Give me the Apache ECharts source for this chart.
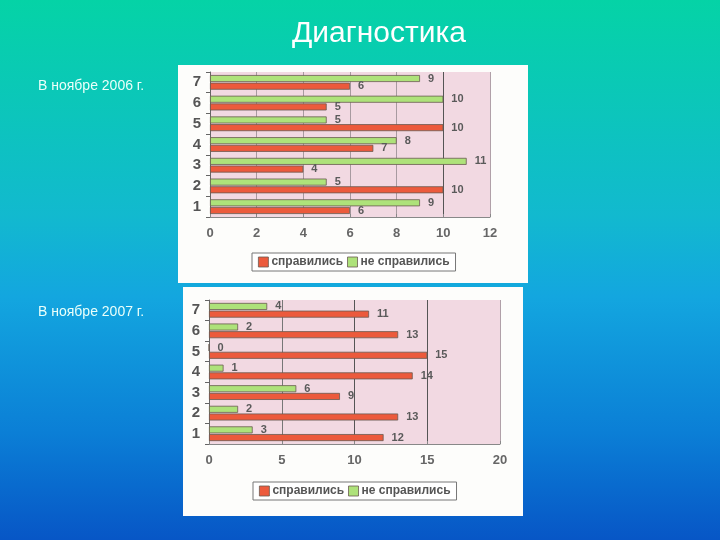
<!DOCTYPE html>
<html><head><meta charset="utf-8">
<script src="https://cdn.jsdelivr.net/npm/echarts@6/dist/echarts.min.js"></script>
<style>html,body{margin:0;padding:0;}#c{width:720px;height:540px;background:linear-gradient(to bottom,#05d3a6 0%,#12b9cf 40%,#13a6df 55%,#0b7fd6 80%,#0756c6 100%);}</style>
</head><body><div id="c"></div>
<script>
var categories = ['1','2','3','4','5','6','7'];
var seriesNames = ['справились','не справились'];
var done2006 = [6,10,4,7,10,5,6];
var notDone2006 = [9,5,11,8,5,10,9];
var done2007 = [12,13,9,14,15,13,11];
var notDone2007 = [3,2,6,1,0,2,4];
var ticks2006 = {min:0,max:12,interval:2};
var ticks2007 = {min:0,max:20,interval:5};

var RED = '#ec5a3c', GREEN = '#aee27a';
var chart = echarts.init(document.getElementById('c'));
function barSeries(name, data, color, idx){
  return {type:'bar', name:name, data:data, xAxisIndex:idx, yAxisIndex:idx,
    barWidth:7, barGap:'10%',
    itemStyle:{color:color, borderColor:'#6a5a50', borderWidth:0.8},
    label:{show:true, position:'right', distance:8, fontSize:11, fontWeight:'bold', color:'#5a5a5a', fontFamily:'Liberation Sans'}};
}
function xAx(idx, t, cols){
  return {type:'value', gridIndex:idx, min:t.min, max:t.max, interval:t.interval,
    axisLine:{show:true, lineStyle:{color:'#888'}},
    axisTick:{show:true, inside:true, length:3, lineStyle:{color:'#888'}},
    axisLabel:{fontSize:13, fontWeight:'bold', color:'#666', margin:10, fontFamily:'Liberation Sans'},
    splitLine:{show:true, lineStyle:{color:cols, width:1}}};
}
function yAx(idx){
  return {type:'category', gridIndex:idx, data:categories,
    axisLine:{show:true, lineStyle:{color:'#666'}},
    axisTick:{show:true, length:4, lineStyle:{color:'#666'}},
    axisLabel:{fontSize:15, fontWeight:'bold', color:'#555', margin:9, fontFamily:'Liberation Sans'}};
}
function legend(left, top){
  return {left:left, top:top, orient:'horizontal', data:seriesNames, icon:'rect',
    itemWidth:10, itemHeight:10, itemGap:4, padding:[3,6],
    borderColor:'#777', borderWidth:1, backgroundColor:'#fff',
    itemStyle:{borderColor:'#6a5a50', borderWidth:0.8},
    textStyle:{fontSize:12, fontWeight:'bold', color:'#555', fontFamily:'Liberation Sans', padding:[0,0,0,-2]}};
}
chart.setOption({
  animation:false,
  backgroundColor:'transparent',
  title:{text:'Диагностика', left:374, textAlign:'center', top:14,
    textStyle:{color:'#ffffff', fontSize:30, fontWeight:'normal', fontFamily:'Liberation Sans'}},
  graphic:[
    {type:'rect', shape:{x:178,y:65,width:350,height:218}, style:{fill:'#fdfdfb'}, z:-10},
    {type:'rect', shape:{x:183,y:287,width:340,height:229}, style:{fill:'#fdfdfb'}, z:-10},
    {type:'text', left:38, top:79, style:{text:'В ноябре 2006 г.', fill:'#eafffa', font:'14px "Liberation Sans"'}},
    {type:'text', left:38, top:305, style:{text:'В ноябре 2007 г.', fill:'#eafffa', font:'14px "Liberation Sans"'}}
  ],
  legend:[legend(252,253), legend(253,482)],
  grid:[
    {left:210, top:72, width:280, height:145, show:true, backgroundColor:'#f2d9e2', borderWidth:0},
    {left:209, top:300, width:291, height:144, show:true, backgroundColor:'#f2d9e2', borderWidth:0}
  ],
  xAxis:[xAx(0,ticks2006,['#b0a0a8','#a89aa0','#a89aa0','#a89aa0','#a89aa0','#555','#b0a0a8']),
         xAx(1,ticks2007,['#b0a0a8','#777','#555','#555','#b0a0a8'])],
  yAxis:[yAx(0), yAx(1)],
  series:[
    barSeries(seriesNames[1], notDone2006, GREEN, 0),
    barSeries(seriesNames[0], done2006, RED, 0),
    barSeries(seriesNames[1], notDone2007, GREEN, 1),
    barSeries(seriesNames[0], done2007, RED, 1)
  ]
});
</script></body></html>
